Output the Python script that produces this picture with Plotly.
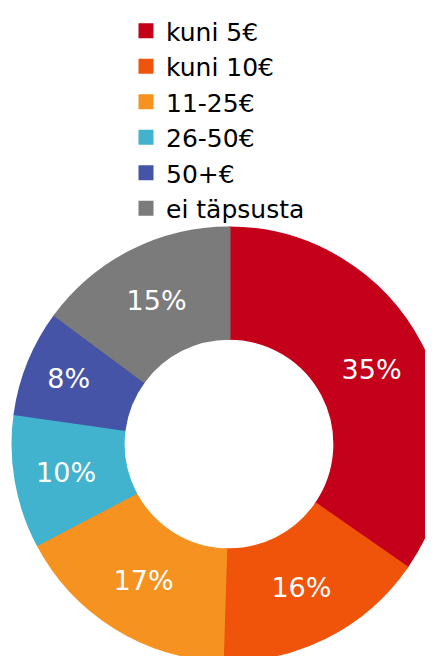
"""Donut chart of spending categories."""

import plotly.graph_objects as go

labels = ["kuni 5€", "kuni 10€", "11-25€", "26-50€", "50+€", "ei täpsusta"]
shares = [35, 16, 17, 10, 8, 15]
colors = ["#C4001A", "#F0540A", "#F59220", "#41B3CE", "#4554A6", "#7B7B7B"]

W, H = 437, 656

fig = go.Figure(
    go.Pie(
        labels=labels,
        values=shares,
        # outline in the slice colour so the legend squares come out a bit larger
        marker=dict(colors=colors, line=dict(width=3, color=colors)),
        hole=0.49,
        sort=False,
        direction="clockwise",
        rotation=0,
        texttemplate="%{value}%",
        textposition="inside",
        insidetextorientation="horizontal",
        textfont=dict(family="DejaVu Sans", size=27, color="white"),
        domain=dict(x=[5 / W, 1.0], y=[4 / H, 436 / H]),
        hoverinfo="label+percent",
    )
)

fig.update_layout(
    width=W,
    height=H,
    margin=dict(l=0, r=0, t=0, b=0),
    paper_bgcolor="white",
    font=dict(family="DejaVu Sans", color="black"),
    legend=dict(
        x=118 / W,
        y=1.0,
        xanchor="left",
        yanchor="top",
        font=dict(size=25, color="black"),
        bgcolor="rgba(0,0,0,0)",
        itemclick=False,
    ),
)

fig.write_html("out.html")
